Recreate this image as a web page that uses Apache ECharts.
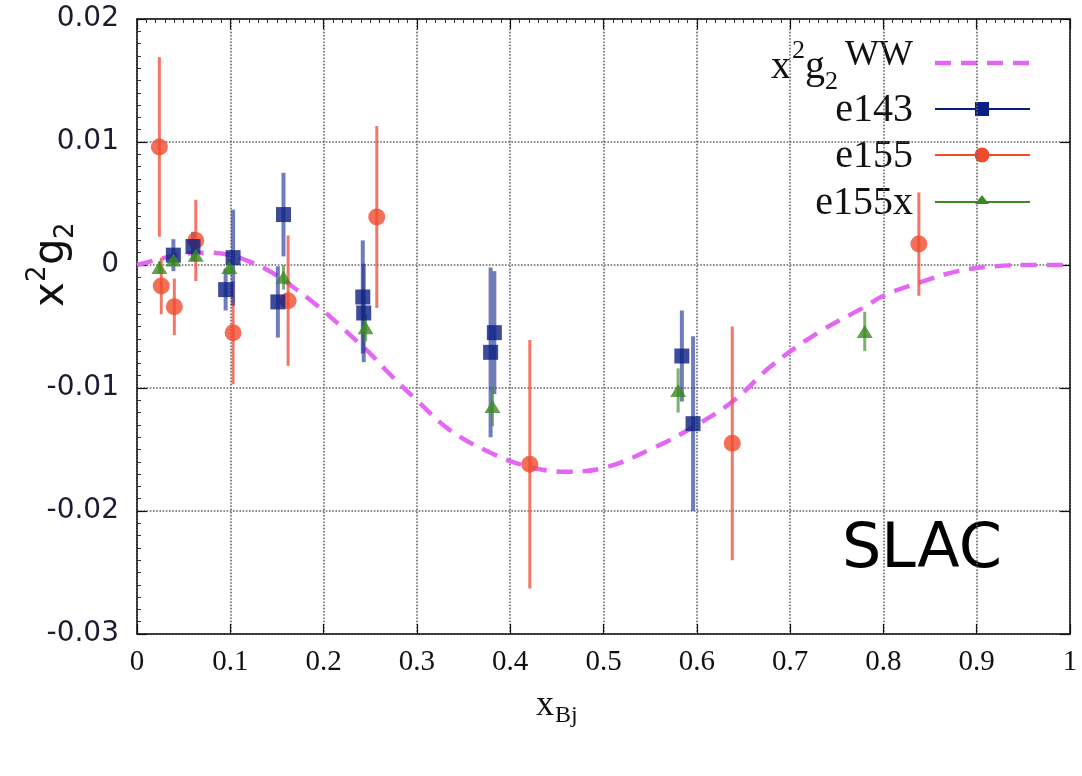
<!DOCTYPE html>
<html>
<head>
<meta charset="utf-8">
<script src="https://cdn.jsdelivr.net/npm/echarts@6/dist/echarts.min.js"></script>
<style>
html,body{margin:0;padding:0;background:#fff;}
#chart{width:1082px;height:776px;}
</style>
</head>
<body>
<div id="chart"></div>
<script>
// ---- data ----
const xTickLabels = ['0','0.1','0.2','0.3','0.4','0.5','0.6','0.7','0.8','0.9','1'];
const yTickLabels = ['-0.03','-0.02','-0.01','0','0.01','0.02'];

const wwX = [0, 0.02, 0.05, 0.08, 0.10, 0.12, 0.14, 0.16, 0.185, 0.21, 0.23, 0.25, 0.27, 0.30, 0.335, 0.38, 0.42, 0.46, 0.50, 0.55, 0.60, 0.64, 0.68, 0.73, 0.78, 0.80, 0.84, 0.88, 0.92, 0.96, 1.0];
const wwY = [0, 0.0004, 0.0009, 0.0010, 0.0008, 0.0003, -0.0004, -0.0014, -0.0028, -0.0044, -0.0058, -0.0072, -0.0088, -0.0110, -0.0134, -0.0153, -0.0164, -0.0168, -0.0165, -0.0150, -0.0130, -0.0110, -0.0082, -0.0055, -0.0034, -0.0025, -0.0014, -0.0005, -0.0001, 0, 0];

const e143X   = [0.039, 0.060, 0.095, 0.103, 0.151, 0.157, 0.242, 0.243, 0.379, 0.383, 0.584, 0.596];
const e143Y   = [0.0008, 0.0015, -0.0020, 0.0006, -0.0030, 0.0041, -0.0026, -0.0039, -0.0071, -0.0055, -0.0074, -0.0129];
const e143Err = [0.0013, 0.0012, 0.0017, 0.0039, 0.0029, 0.0034, 0.0046, 0.0040, 0.0069, 0.0050, 0.0037, 0.0071];

const e155X   = [0.024, 0.026, 0.040, 0.063, 0.103, 0.162, 0.257, 0.421, 0.638, 0.838];
const e155Y   = [0.0096, -0.0017, -0.0034, 0.0020, -0.0055, -0.0029, 0.0039, -0.0162, -0.0145, 0.0017];
const e155Err = [0.0073, 0.0023, 0.0023, 0.0033, 0.0042, 0.0053, 0.0074, 0.0101, 0.0095, 0.0042];

const e155xX   = [0.024, 0.039, 0.063, 0.099, 0.157, 0.245, 0.381, 0.580, 0.780];
const e155xY   = [-0.0002, 0.0004, 0.0008, -0.0002, -0.0010, -0.0051, -0.0115, -0.0102, -0.0054];
const e155xErr = [0.0005, 0.0005, 0.0005, 0.0006, 0.0010, 0.0011, 0.0016, 0.0018, 0.0016];

// ---- colours ----
const cWW = '#e466f4';
const cBlue = '#0b1f82', cBlueBar = 'rgba(35,55,150,0.65)';
const cRed = '#f04b2d', cRedBar = 'rgba(240,85,65,0.8)';
const cGreen = '#3c8a1f', cGreenBar = 'rgba(70,145,45,0.7)';

const zip = (xs, ys) => xs.map((x, i) => [x, ys[i]]);
const zip3 = (xs, ys, es) => xs.map((x, i) => [x, ys[i], es[i]]);

function errSeries(data, color, width) {
  return {
    type: 'custom',
    xAxisIndex: 0, yAxisIndex: 0,
    data: data,
    z: 3,
    silent: true,
    renderItem: function (params, api) {
      const x = api.value(0), y = api.value(1), e = api.value(2);
      const p1 = api.coord([x, y - e]);
      const p2 = api.coord([x, y + e]);
      return { type: 'line', shape: { x1: p1[0], y1: p1[1], x2: p2[0], y2: p2[1] },
               style: { stroke: color, lineWidth: width } };
    }
  };
}

const chart = echarts.init(document.getElementById('chart'), null, { renderer: 'canvas' });

function axisLine() { return { show: true, onZero: false, lineStyle: { color: '#111', width: 1.5 } }; }
function gridLine() { return { show: true, lineStyle: { color: '#666', width: 1.6, type: 'dotted' } }; }
function tick() { return { show: true, inside: true, length: 10, lineStyle: { color: '#111', width: 1.2 } }; }
function minor() { return { show: true, splitNumber: 10, length: 4, lineStyle: { color: '#333', width: 1 } }; }

const option = {
  backgroundColor: '#fff',
  animation: false,
  grid: { left: 137, right: 12, top: 19, bottom: 142, containLabel: false },
  xAxis: [{
    type: 'value', min: 0, max: 1, interval: 0.1, position: 'bottom',
    axisLine: axisLine(), axisTick: tick(),
    axisLabel: { margin: 14, fontFamily: 'Liberation Serif', fontSize: 29, color: '#111',
      formatter: v => xTickLabels[Math.round(v * 10)] },
    splitLine: gridLine()
  }, {
    type: 'value', min: 0, max: 1, interval: 0.1, position: 'top',
    axisLine: axisLine(), axisTick: tick(), minorTick: minor(),
    axisLabel: { show: false }, splitLine: { show: false }
  }],
  yAxis: [{
    type: 'value', min: -0.03, max: 0.02, interval: 0.01, position: 'left',
    axisLine: axisLine(), axisTick: tick(), minorTick: minor(),
    axisLabel: { margin: 18, fontFamily: 'DejaVu Sans', fontSize: 28, color: '#1a1a30',
      formatter: v => yTickLabels[Math.round(v * 100) + 3] },
    splitLine: gridLine()
  }, {
    type: 'value', min: -0.03, max: 0.02, interval: 0.01, position: 'right',
    axisLine: axisLine(), axisTick: tick(),
    axisLabel: { show: false }, splitLine: { show: false }
  }],
  series: [
    {
      name: 'x2g2WW', type: 'line', xAxisIndex: 0, yAxisIndex: 0,
      data: zip(wwX, wwY), smooth: 0.4, showSymbol: false, z: 2, silent: true,
      lineStyle: { color: cWW, width: 4.5, type: [16, 10] }
    },
    errSeries(zip3(e155X, e155Y, e155Err), cRedBar, 3),
    errSeries(zip3(e143X, e143Y, e143Err), cBlueBar, 4),
    errSeries(zip3(e155xX, e155xY, e155xErr), cGreenBar, 3),
    {
      name: 'e155', type: 'scatter', data: zip(e155X, e155Y), z: 4,
      symbol: 'circle', symbolSize: 17, itemStyle: { color: cRed }
    },
    {
      name: 'e143', type: 'scatter', data: zip(e143X, e143Y), z: 5,
      symbol: 'rect', symbolSize: 15, itemStyle: { color: cBlue }
    },
    {
      name: 'e155x', type: 'scatter', data: zip(e155xX, e155xY), z: 6,
      symbol: 'triangle', symbolSize: [16, 13], itemStyle: { color: cGreen }
    }
  ],
  graphic: [
    // y-axis title x^2 g_2 (rotated)
    {
      type: 'group', x: 52, y: 265, rotation: Math.PI / 2,
      children: [
        { type: 'text', x: -42, y: 0, style: { text: 'x', font: '42px "DejaVu Sans"', fill: '#111', verticalAlign: 'middle' } },
        { type: 'text', x: -17, y: -14, style: { text: '2', font: '26px "DejaVu Sans"', fill: '#111', verticalAlign: 'middle' } },
        { type: 'text', x: 0, y: 0, style: { text: 'g', font: '42px "DejaVu Sans"', fill: '#111', verticalAlign: 'middle' } },
        { type: 'text', x: 26, y: 14, style: { text: '2', font: '26px "DejaVu Sans"', fill: '#111', verticalAlign: 'middle' } }
      ]
    },
    // x-axis title x_Bj
    {
      type: 'group', x: 555, y: 706,
      children: [
        { type: 'text', x: -19, y: 0, style: { text: 'x', font: '36px "Liberation Serif"', fill: '#111', verticalAlign: 'middle' } },
        { type: 'text', x: 0, y: 10, style: { text: 'Bj', font: '24px "Liberation Serif"', fill: '#111', verticalAlign: 'middle' } }
      ]
    },
    // legend
    { type: 'text', x: 771, y: 67, style: { text: 'x', font: '40px "Liberation Serif"', fill: '#111', verticalAlign: 'middle' } },
    { type: 'text', x: 792, y: 51, style: { text: '2', font: '26px "Liberation Serif"', fill: '#111', verticalAlign: 'middle' } },
    { type: 'text', x: 805, y: 67, style: { text: 'g', font: '40px "Liberation Serif"', fill: '#111', verticalAlign: 'middle' } },
    { type: 'text', x: 825, y: 82, style: { text: '2', font: '26px "Liberation Serif"', fill: '#111', verticalAlign: 'middle' } },
    { type: 'text', x: 913, y: 56, style: { text: 'WW', font: '36px "Liberation Serif"', fill: '#111', align: 'right', verticalAlign: 'middle' } },
    { type: 'line', shape: { x1: 935, y1: 63, x2: 1030, y2: 63 }, style: { stroke: cWW, lineWidth: 4.5, lineDash: [16, 10] } },

    { type: 'text', x: 913, y: 110, style: { text: 'e143', font: '40px "Liberation Serif"', fill: '#111', align: 'right', verticalAlign: 'middle' } },
    { type: 'line', shape: { x1: 935, y1: 109, x2: 1030, y2: 109 }, style: { stroke: cBlue, lineWidth: 2 } },
    { type: 'rect', shape: { x: 975, y: 102, width: 14, height: 14 }, style: { fill: cBlue } },

    { type: 'text', x: 913, y: 156, style: { text: 'e155', font: '40px "Liberation Serif"', fill: '#111', align: 'right', verticalAlign: 'middle' } },
    { type: 'line', shape: { x1: 935, y1: 155, x2: 1030, y2: 155 }, style: { stroke: cRed, lineWidth: 2 } },
    { type: 'circle', shape: { cx: 982, cy: 155, r: 7.5 }, style: { fill: cRed } },

    { type: 'text', x: 913, y: 203, style: { text: 'e155x', font: '40px "Liberation Serif"', fill: '#111', align: 'right', verticalAlign: 'middle' } },
    { type: 'line', shape: { x1: 935, y1: 202, x2: 1030, y2: 202 }, style: { stroke: cGreen, lineWidth: 2 } },
    { type: 'polygon', shape: { points: [[982, 195], [975, 204], [989, 204]] }, style: { fill: cGreen } },

    // SLAC label
    { type: 'text', x: 842, y: 551, style: { text: 'SLAC', font: '62px "DejaVu Sans"', fill: '#000', verticalAlign: 'middle' } }
  ]
};

chart.setOption(option);
</script>
</body>
</html>
